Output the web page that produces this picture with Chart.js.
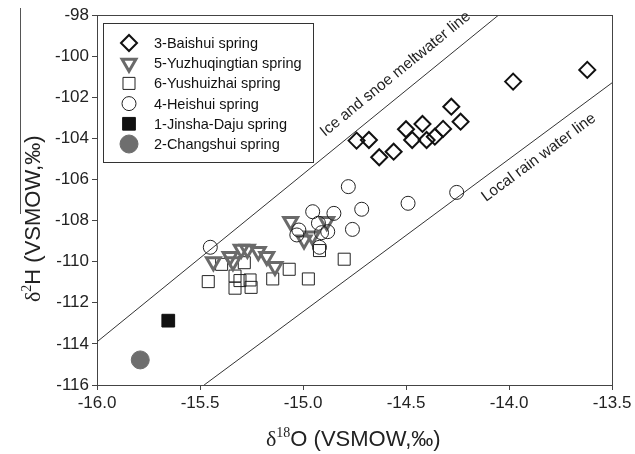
<!DOCTYPE html>
<html>
<head>
<meta charset="utf-8">
<script src="https://cdn.jsdelivr.net/npm/chart.js@4/dist/chart.umd.min.js"></script>
<style>
  html, body { margin: 0; padding: 0; background: #fff; }
  #wrap { width: 635px; height: 454px; position: relative; }
</style>
</head>
<body>
<div id="wrap"><canvas id="cv"></canvas></div>
<script>
// spring names (legend order)
const seriesNames = ['3-Baishui spring', '5-Yuzhuqingtian spring', '6-Yushuizhai spring',
  '4-Heishui spring', '1-Jinsha-Daju spring', '2-Changshui spring'];

// d18O / d2H values
const baishuiX = [-13.62, -13.98, -14.28, -14.235, -14.32, -14.36, -14.42, -14.40, -14.50, -14.47, -14.68, -14.74, -14.56, -14.63];
const baishuiY = [-100.67, -101.24, -102.46, -103.19, -103.54, -103.92, -103.30, -104.08, -103.56, -104.08, -104.08, -104.11, -104.65, -104.92];

const yuzhuX = [-15.06, -14.885, -14.995, -14.955, -15.435, -15.354, -15.34, -15.30, -15.27, -15.217, -15.176, -15.136];
const yuzhuY = [-108.05, -108.05, -108.95, -108.75, -110.0, -109.75, -110.0, -109.4, -109.4, -109.51, -109.75, -110.24];

const yushuiX = [-15.46, -15.395, -15.285, -15.33, -15.306, -15.257, -15.33, -15.252, -15.147, -15.067, -14.974, -14.92, -14.80];
const yushuiY = [-110.97, -110.13, -110.05, -110.7, -110.92, -110.89, -111.29, -111.25, -110.84, -110.37, -110.84, -109.46, -109.88];

const heishuiX = [-14.78, -14.254, -14.49, -14.715, -14.85, -14.953, -14.76, -14.925, -14.88, -14.91, -15.02, -15.03, -14.92, -15.45];
const heishuiY = [-106.35, -106.63, -107.16, -107.45, -107.65, -107.57, -108.43, -108.13, -108.54, -108.59, -108.46, -108.7, -109.3, -109.3];

const jinshaX = [-15.654];
const jinshaY = [-112.87];

const changshuiX = [-15.79];
const changshuiY = [-114.78];

// reference lines (end points)
const iceX = [-16.0, -14.05];
const iceY = [-113.9, -98.0];
const rainX = [-15.48, -13.5];
const rainY = [-116.0, -101.3];

const xTicks = [-16.0, -15.5, -15.0, -14.5, -14.0, -13.5];
const yTicks = [-116, -114, -112, -110, -108, -106, -104, -102, -100, -98];

const FONT = '"Liberation Sans", Arial, sans-serif';
const SERIF = '"Liberation Serif", "Times New Roman", serif';

function pts(xs, ys) {
  return xs.map((x, i) => ({ x: x, y: ys[i] }));
}

// marker styles, same order as seriesNames
const markers = [
  { pointStyle: 'rectRot', radius: 8, rotation: 0, fill: 'rgba(0,0,0,0)', stroke: '#111', lw: 2 },
  { pointStyle: 'triangle', radius: 8, rotation: 180, fill: 'rgba(0,0,0,0)', stroke: '#6a6a6a', lw: 3 },
  { pointStyle: 'rect', radius: 8.5, rotation: 0, fill: 'rgba(0,0,0,0)', stroke: '#222', lw: 1 },
  { pointStyle: 'circle', radius: 7, rotation: 0, fill: 'rgba(0,0,0,0)', stroke: '#222', lw: 1 },
  { pointStyle: 'rect', radius: 9, rotation: 0, fill: '#111', stroke: '#111', lw: 1 },
  { pointStyle: 'circle', radius: 9, rotation: 0, fill: '#6e6e6e', stroke: '#6e6e6e', lw: 1 },
];

const seriesData = [
  pts(baishuiX, baishuiY),
  pts(yuzhuX, yuzhuY),
  pts(yushuiX, yushuiY),
  pts(heishuiX, heishuiY),
  pts(jinshaX, jinshaY),
  pts(changshuiX, changshuiY),
];
const drawOrder = [1, 4, 5, 2, 1, 1];

let datasets = seriesData.map((d, i) => ({
  type: 'scatter',
  label: seriesNames[i],
  data: d,
  pointStyle: markers[i].pointStyle,
  pointRadius: markers[i].radius,
  pointHoverRadius: markers[i].radius,
  pointRotation: markers[i].rotation,
  backgroundColor: markers[i].fill,
  borderColor: markers[i].stroke,
  borderWidth: markers[i].lw,
  order: drawOrder[i],
}));

datasets.push({
  type: 'line', label: 'ice', data: pts(iceX, iceY),
  borderColor: '#333', borderWidth: 1, pointRadius: 0, order: 10,
});
datasets.push({
  type: 'line', label: 'rain', data: pts(rainX, rainY),
  borderColor: '#333', borderWidth: 1, pointRadius: 0, order: 10,
});

const frameAndText = {
  id: 'frameAndText',
  afterDraw(chart) {
    const ctx = chart.ctx;
    const a = chart.chartArea;
    const xs = chart.scales.x, ys = chart.scales.y;
    ctx.save();

    // box round the plot
    ctx.strokeStyle = '#444';
    ctx.lineWidth = 1;
    ctx.strokeRect(a.left + 0.5, a.top + 0.5, a.right - a.left, a.bottom - a.top);

    // line labels
    ctx.fillStyle = '#222';
    ctx.textBaseline = 'alphabetic';
    ctx.textAlign = 'left';
    function lineLabel(text, size, lx, ly, ax, ay, bx, by) {
      const ang = Math.atan2(ys.getPixelForValue(by) - ys.getPixelForValue(ay),
        xs.getPixelForValue(bx) - xs.getPixelForValue(ax));
      ctx.save();
      ctx.font = size + 'px ' + FONT;
      ctx.translate(xs.getPixelForValue(lx), ys.getPixelForValue(ly));
      ctx.rotate(ang);
      ctx.fillText(text, 0, 0);
      ctx.restore();
    }
    lineLabel('Ice and snoe meltwater line', 15.5, -14.893, -103.93, iceX[0], iceY[0], iceX[1], iceY[1]);
    lineLabel('Local rain water line', 15.5, -14.112, -107.1, rainX[0], rainY[0], rainX[1], rainY[1]);

    // legend
    const lx = 103, ly = 23, lw = 210, lh = 139;
    ctx.fillStyle = '#fff';
    ctx.fillRect(lx, ly, lw, lh);
    ctx.strokeStyle = '#333';
    ctx.strokeRect(lx + 0.5, ly + 0.5, lw, lh);
    ctx.font = '14.5px ' + FONT;
    ctx.textBaseline = 'middle';
    seriesNames.forEach((name, i) => {
      const y = 43 + i * 20.2;
      const m = markers[i];
      ctx.fillStyle = m.fill;
      ctx.strokeStyle = m.stroke;
      ctx.lineWidth = m.lw;
      Chart.helpers.drawPoint(ctx, {
        pointStyle: m.pointStyle, radius: m.radius, rotation: m.rotation, borderWidth: m.lw
      }, 129, y);
      ctx.fillStyle = '#111';
      ctx.fillText(name, 154, y + 1);
    });

    // axis titles
    ctx.fillStyle = '#222';
    ctx.textBaseline = 'alphabetic';
    // x title
    let x0 = 266, yb = 446;
    ctx.font = '22px ' + SERIF;
    ctx.fillText('\u03b4', x0, yb);
    x0 += ctx.measureText('\u03b4').width;
    ctx.font = '14px ' + SERIF;
    ctx.fillText('18', x0, yb - 9);
    x0 += ctx.measureText('18').width;
    ctx.font = '22px ' + FONT;
    ctx.fillText('O (VSMOW,\u2030)', x0, yb);

    // y title
    ctx.save();
    ctx.translate(40, 302);
    ctx.rotate(-Math.PI / 2);
    let t0 = 0;
    ctx.font = '22px ' + SERIF;
    ctx.fillText('\u03b4', t0, 0);
    t0 += ctx.measureText('\u03b4').width;
    ctx.font = '14px ' + SERIF;
    ctx.fillText('2', t0, -9);
    t0 += ctx.measureText('2').width;
    ctx.font = '22px ' + FONT;
    ctx.fillText('H (VSMOW,\u2030)', t0, 0);
    ctx.restore();
    // stray rule above the y title
    ctx.strokeStyle = '#555';
    ctx.lineWidth = 1;
    ctx.beginPath();
    ctx.moveTo(20.5, 8);
    ctx.lineTo(20.5, 214);
    ctx.stroke();

    ctx.restore();
  }
};

new Chart(document.getElementById('cv'), {
  data: { datasets: datasets },
  options: {
    responsive: true,
    maintainAspectRatio: false,
    animation: false,
    events: [],
    layout: { padding: { left: 0, top: 15, right: 23, bottom: 0 } },
    plugins: { legend: { display: false }, tooltip: { enabled: false } },
    scales: {
      x: {
        type: 'linear',
        min: -16, max: -13.5,
        afterBuildTicks: s => { s.ticks = xTicks.map(v => ({ value: v })); },
        afterFit: s => { s.height = 69; },
        ticks: {
          callback: v => v.toFixed(1),
          color: '#222', font: { family: FONT, size: 17 }, padding: 3, maxRotation: 0,
        },
        grid: { drawOnChartArea: false, drawTicks: true, tickLength: 5, color: '#444' },
        border: { display: true, color: '#444' },
      },
      y: {
        type: 'linear',
        min: -116, max: -98,
        afterBuildTicks: s => { s.ticks = yTicks.map(v => ({ value: v })); },
        afterFit: s => { s.width = 97; },
        ticks: {
          callback: v => String(v),
          color: '#222', font: { family: FONT, size: 17 }, padding: 3,
        },
        grid: { drawOnChartArea: false, drawTicks: true, tickLength: 5, color: '#444' },
        border: { display: true, color: '#444' },
      },
    },
  },
  plugins: [frameAndText],
});
</script>
</body>
</html>
